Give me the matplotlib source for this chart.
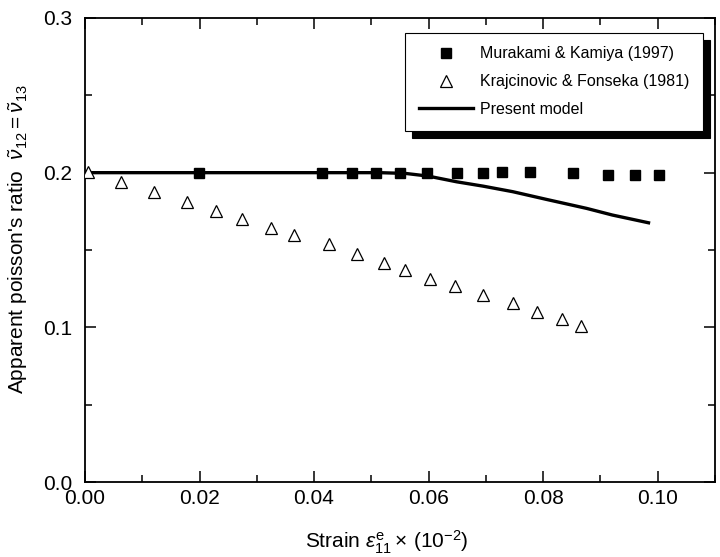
import matplotlib
matplotlib.use("Agg")
import matplotlib.pyplot as plt
from matplotlib.ticker import MultipleLocator, FormatStrFormatter

plt.rcParams['font.family'] = ['Liberation Sans', 'DejaVu Sans']
plt.rcParams['mathtext.fontset'] = 'custom'
plt.rcParams['mathtext.rm'] = 'Liberation Sans'
plt.rcParams['mathtext.it'] = 'Liberation Sans:italic'

# Murakami & Kamiya (1997) - filled squares
murakami_x = [0.0199, 0.0414, 0.0466, 0.0508, 0.0550, 0.0597, 0.0649,
              0.0695, 0.0729, 0.0777, 0.0852, 0.0913, 0.0960, 0.1003]
murakami_y = [0.200, 0.200, 0.200, 0.200, 0.200, 0.200, 0.200,
              0.200, 0.2005, 0.2005, 0.200, 0.1985, 0.1985, 0.1985]

# Krajcinovic & Fonseka (1981) - open triangles
krajc_x = [0.0005, 0.0063, 0.0120, 0.0178, 0.0229, 0.0274, 0.0325, 0.0365,
           0.0426, 0.0475, 0.0522, 0.0558, 0.0602, 0.0646, 0.0695, 0.0747,
           0.0789, 0.0833, 0.0866]
krajc_y = [0.2004, 0.1939, 0.1874, 0.1810, 0.1752, 0.1700, 0.1642, 0.1597,
           0.1538, 0.1474, 0.1416, 0.1370, 0.1312, 0.1267, 0.1209, 0.1157,
           0.1099, 0.1054, 0.1008]

# present model - solid line
model_x = [0.0, 0.02, 0.04, 0.0515, 0.0560, 0.0599, 0.0649, 0.0695,
           0.0747, 0.0806, 0.0876, 0.0921, 0.0984]
model_y = [0.200, 0.200, 0.200, 0.200, 0.1995, 0.1978, 0.1941, 0.1913,
           0.1877, 0.1827, 0.1769, 0.1726, 0.1676]

fig = plt.figure(figsize=(7.2, 5.57), dpi=100)
ax = fig.add_axes([0.118, 0.1346, 0.875, 0.8331])

ax.plot(murakami_x, murakami_y, linestyle='none', marker='s', markersize=7,
        color='black', label='Murakami & Kamiya (1997)', zorder=3)
ax.plot(krajc_x, krajc_y, linestyle='none', marker='^', markersize=8.5,
        markerfacecolor='white', markeredgecolor='black', markeredgewidth=0.9,
        label='Krajcinovic & Fonseka (1981)', zorder=3)
ax.plot(model_x, model_y, color='black', linewidth=2.4, label='Present model',
        zorder=2)

ax.set_xlim(0, 0.11)
ax.set_ylim(0, 0.3)
ax.xaxis.set_major_locator(MultipleLocator(0.02))
ax.xaxis.set_minor_locator(MultipleLocator(0.01))
ax.yaxis.set_major_locator(MultipleLocator(0.1))
ax.yaxis.set_minor_locator(MultipleLocator(0.05))
ax.xaxis.set_major_formatter(FormatStrFormatter('%.2f'))
ax.yaxis.set_major_formatter(FormatStrFormatter('%.1f'))
ax.tick_params(which='both', direction='in', top=True, right=True,
               labelsize=15, width=1.1)
ax.tick_params(which='major', length=8)
ax.tick_params(which='minor', length=5)
ax.tick_params(axis='x', which='major', pad=5)
ax.tick_params(axis='y', which='major', pad=9)
for s in ax.spines.values():
    s.set_linewidth(1.3)

ax.set_xlabel(r"Strain $\varepsilon_{11}^{\mathrm{e}}\times\,(10^{-2})$",
              fontsize=15)
ax.set_ylabel(r"Apparent poisson's ratio  $\tilde{\nu}_{12}=\tilde{\nu}_{13}$",
              fontsize=15)
ax.xaxis.set_label_coords(0.479, -0.101)
ax.yaxis.set_label_coords(-0.087, 0.524)

leg = ax.legend(loc='upper right', bbox_to_anchor=(0.981, 0.968),
                borderaxespad=0, fontsize=11.5, fancybox=False,
                edgecolor='black', framealpha=1, labelspacing=0.8,
                handlelength=3.4, handletextpad=0.45, borderpad=0.85,
                shadow={'ox': 5, 'oy': -5.5, 'color': 'black', 'alpha': 1})
leg.get_frame().set_linewidth(0.8)

fig.savefig('out.png', dpi=100)
